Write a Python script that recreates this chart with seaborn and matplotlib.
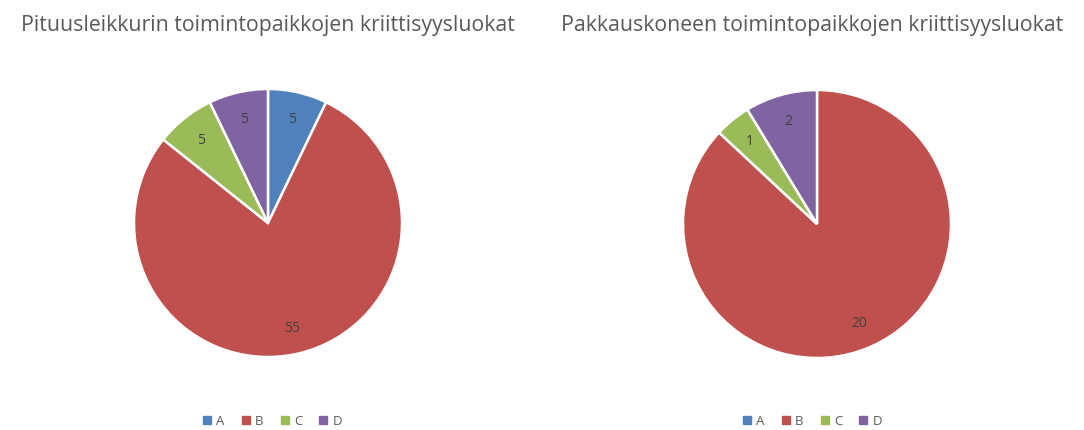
import matplotlib
matplotlib.use("Agg")
import matplotlib.pyplot as plt
import seaborn as sns
from matplotlib.lines import Line2D

categories = ["A", "B", "C", "D"]
left_values = [5, 55, 5, 5]
right_values = [0, 20, 1, 2]
left_title = "Pituusleikkurin toimintopaikkojen kriittisyysluokat"
right_title = "Pakkauskoneen toimintopaikkojen kriittisyysluokat"

sns.set_theme(style="white")
plt.rcParams['font.family'] = ['Open Sans', 'DejaVu Sans']
colors = sns.color_palette(["#4F81BD", "#C0504D", "#9BBB59", "#8064A2"])

W, H = 1084, 431
fig = plt.figure(figsize=(W / 100, H / 100), dpi=100)
fig.patch.set_facecolor("white")

def draw(cx, cy, r, values, title, tx, lx):
    ax = fig.add_axes([(cx - r) / W, (H - cy - r) / H, 2 * r / W, 2 * r / H])
    labels = [str(v) if v > 0 else "" for v in values]
    wedges, texts = ax.pie(values, colors=colors, startangle=90, counterclock=False,
                           labels=labels, labeldistance=0.8,
                           wedgeprops=dict(edgecolor="white", linewidth=1.8))
    for t in texts:
        t.set_color("#404040")
        t.set_fontsize(10)
        t.set_ha("center")
        t.set_va("center")
    ax.set_xlim(-1, 1)
    ax.set_ylim(-1, 1)
    ax.set_aspect("equal")
    ax.axis("off")
    fig.text(tx / W, 1 - 25 / H, title, ha="center", va="center",
             fontsize=15.3, color="#595959")
    handles = [Line2D([0], [0], marker="s", linestyle="", markersize=5.5,
                      markerfacecolor=c, markeredgecolor=c) for c in colors]
    fig.legend(handles, categories, loc="center", bbox_to_anchor=(lx / W, 1 - 422 / H),
               ncol=4, frameon=False, fontsize=9.5, labelcolor="#595959",
               handlelength=0.8, handletextpad=0.3, columnspacing=1.2)

draw(268, 224, 134, left_values, left_title, 268, 272)
draw(817, 225, 134, right_values, right_title, 812, 812)

fig.savefig("out.png", dpi=100, facecolor="white")
